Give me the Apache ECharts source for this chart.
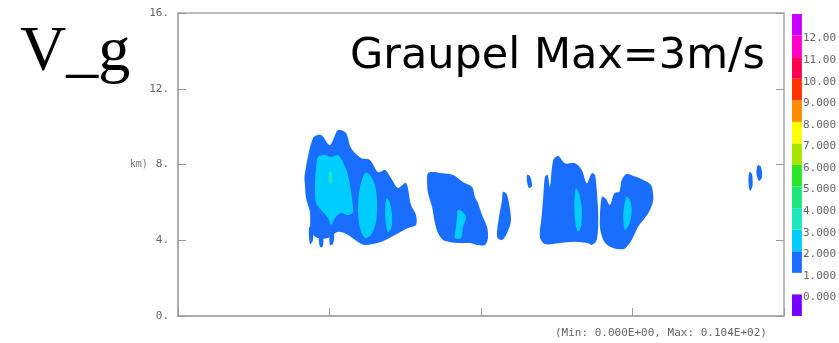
<!DOCTYPE html>
<html>
<head>
<meta charset="utf-8">
<script src="https://cdn.jsdelivr.net/npm/echarts@6/dist/echarts.min.js"></script>
<style>
  html, body { margin: 0; padding: 0; background: #fff; }
  #chart { width: 839px; height: 343px; }
</style>
</head>
<body>
<div id="chart"></div>
<script>
// contour outlines, [x, height km]
// level 1-2 m/s
const blueAreas = [
  [[0.836,7.45],[0.891,9.40],[0.944,9.56],[1.003,9.03],[1.056,9.82],[1.109,9.66],[1.142,8.87],[1.208,8.34],
   [1.267,8.24],[1.320,7.60],[1.366,7.71],[1.406,7.29],[1.452,6.76],[1.505,7.02],[1.538,5.86],[1.571,5.33],
   [1.571,4.81],[1.518,4.65],[1.432,4.28],[1.340,3.91],[1.234,3.75],[1.188,3.91],[1.122,4.28],[1.056,4.44],
   [0.990,4.12],[0.924,4.12],[0.878,4.44],[0.871,5.49],[0.845,6.23],[0.838,6.92]],
  [[0.865,4.65],[0.884,4.75],[0.891,4.01],[0.871,3.80]],
  [[0.931,4.44],[0.957,4.54],[0.957,3.70],[0.937,3.64]],
  [[1.003,4.33],[1.030,4.33],[1.023,3.80],[1.003,3.75]],
  [[1.650,7.55],[1.683,7.60],[1.729,7.55],[1.815,7.45],[1.881,7.08],[1.941,6.81],[1.960,6.28],[1.980,5.97],
   [2.007,5.33],[2.040,4.70],[2.046,4.12],[2.026,3.75],[1.974,3.75],[1.927,3.85],[1.861,3.85],[1.795,3.91],
   [1.749,4.01],[1.716,4.38],[1.696,4.91],[1.677,5.76],[1.650,6.49],[1.644,7.18]],
  [[2.145,6.55],[2.172,6.39],[2.198,5.07],[2.172,4.38],[2.139,4.01],[2.106,4.17],[2.119,5.23],[2.139,6.12]],
  [[2.304,7.45],[2.323,7.39],[2.337,6.86],[2.317,6.76],[2.304,7.08]],
  [[2.422,7.36],[2.440,7.45],[2.455,6.83],[2.477,8.24],[2.510,8.45],[2.554,8.06],[2.620,8.06],[2.665,7.71],
   [2.698,7.01],[2.731,7.54],[2.752,7.45],[2.764,6.65],[2.774,5.24],[2.764,4.01],[2.731,3.75],[2.709,3.84],
   [2.620,3.92],[2.510,3.84],[2.422,3.80],[2.389,4.16],[2.400,5.24],[2.411,6.30]],
  [[2.797,6.30],[2.823,6.21],[2.851,5.86],[2.880,6.48],[2.913,6.56],[2.929,7.18],[2.962,7.50],[3.017,7.36],
   [3.061,7.22],[3.122,6.92],[3.137,6.12],[3.104,5.42],[3.038,4.72],[2.995,4.01],[2.950,3.57],[2.896,3.54],
   [2.840,3.71],[2.807,4.01],[2.785,4.72]],
  [[3.772,7.60],[3.789,7.50],[3.792,6.86],[3.776,6.60],[3.766,7.02]],
  [[3.828,7.97],[3.848,7.87],[3.855,7.34],[3.835,7.13],[3.818,7.55]]
];
// level 2-3 m/s
const cyanAreas = [
  [[0.924,8.40],[0.970,8.50],[1.010,8.40],[1.056,8.50],[1.089,8.13],[1.122,7.45],[1.142,6.55],[1.155,5.49],
   [1.122,5.33],[1.076,5.44],[1.036,5.17],[1.010,4.81],[0.990,5.17],[0.944,5.60],[0.911,5.97],[0.904,6.76],[0.911,7.81]],
  [[1.234,7.55],[1.267,7.45],[1.300,6.92],[1.314,6.02],[1.307,4.96],[1.274,4.28],[1.234,4.12],[1.201,4.65],
   [1.188,5.70],[1.201,6.76]],
  [[1.378,6.23],[1.397,6.02],[1.413,5.33],[1.408,4.65],[1.386,4.44],[1.371,4.96],[1.368,5.70]],
  [[1.848,5.60],[1.881,5.49],[1.901,5.17],[1.881,4.70],[1.868,4.12],[1.828,4.12],[1.835,4.70],[1.842,5.23]],
  [[2.625,6.74],[2.647,6.48],[2.665,5.69],[2.660,4.72],[2.642,4.45],[2.625,4.81],[2.616,5.77]],
  [[2.962,6.30],[2.983,6.12],[2.995,5.51],[2.977,4.81],[2.950,4.54],[2.939,5.24],[2.946,5.86]]
];
// level 3-4 m/s
const aquaAreas = [
  [[0.997,7.60],[1.016,7.55],[1.016,6.97],[0.997,7.07]]
];

// colour bar: lower bound of each band and its colour
const barLows   = [-1, 1, 2, 3, 4, 5, 6, 7, 8, 9, 10, 11, 12];
const barColors = ['#7800ff', '#1a6eff', '#00cdff', '#1ee6be', '#1ee67a', '#28e628', '#a8e600',
                   '#ffff00', '#ff8c00', '#ff3200', '#ff0050', '#ff00c8', '#c800ff'];

const blue = barColors[1], cyan = barColors[2], aqua = barColors[3];

function areaSeries(polys, color) {
  return {
    type: 'custom',
    xAxisIndex: 0,
    yAxisIndex: 0,
    silent: true,
    clip: true,
    data: polys.map((p, i) => [p[0][0], p[0][1], i]),
    renderItem: function (params, api) {
      const pts = polys[params.dataIndex].map(pt => api.coord(pt));
      return {
        type: 'polygon',
        shape: { points: pts, smooth: 0.3 },
        style: { fill: color }
      };
    }
  };
}

const chart = echarts.init(document.getElementById('chart'));
const grey = '#a8a8a8';
const mono = '"DejaVu Sans Mono", monospace';

chart.setOption({
  animation: false,
  grid: [
    { left: 178, top: 13, width: 606, height: 303, show: true, borderColor: grey, borderWidth: 1.5 },
    { left: 792, top: 14, width: 10, height: 302 }
  ],
  xAxis: [
    { gridIndex: 0, type: 'value', min: 0, max: 4, interval: 1,
      axisLine: { lineStyle: { color: grey, width: 1.5 } },
      axisTick: { inside: true, length: 8, lineStyle: { color: '#999' } },
      axisLabel: { show: false }, splitLine: { show: false } },
    { gridIndex: 1, type: 'value', min: 0, max: 1, show: false }
  ],
  yAxis: [
    { gridIndex: 0, type: 'value', min: 0, max: 16, interval: 4,
      axisLine: { show: true, lineStyle: { color: grey, width: 1.5 } },
      axisTick: { inside: true, length: 8, lineStyle: { color: '#999' } },
      splitLine: { show: false },
      axisLabel: {
        margin: 9, color: '#666', fontFamily: mono, fontSize: 11,
        formatter: v => (v === 8 ? '{u|km)}' : '') + v + '.',
        rich: { u: { fontSize: 10, color: '#777', fontFamily: mono, padding: [0, 8, 0, 0] } }
      } },
    { gridIndex: 0, type: 'value', min: 0, max: 16, interval: 4, position: 'right',
      axisLine: { show: false },
      axisTick: { inside: true, length: 8, lineStyle: { color: '#999' } },
      axisLabel: { show: false }, splitLine: { show: false } },
    { gridIndex: 1, type: 'value', min: -1, max: 13, interval: 1, position: 'right',
      axisLine: { show: false }, axisTick: { show: false }, splitLine: { show: false },
      axisLabel: {
        margin: 1,
        formatter: v => (v < 0 || v > 12) ? '' : '{t|' + (v >= 10 ? v.toFixed(2) : v.toFixed(3)) + '}',
        rich: { t: { color: '#666', fontFamily: mono, fontSize: 11, padding: [6, 0, 0, 0] } }
      } }
  ],
  graphic: [
    { type: 'text', left: 20, top: 21,
      style: { text: 'V_g', font: '64px "Liberation Serif", "Times New Roman", serif', fill: '#000' } },
    { type: 'text', right: 74, top: 35,
      style: { text: 'Graupel Max=3m/s', font: '43px "Comic Sans MS", "DejaVu Sans", sans-serif', fill: '#000' } },
    { type: 'text', left: 555, top: 328,
      style: { text: '(Min: 0.000E+00, Max: 0.104E+02)', font: '11px ' + mono, fill: '#666' } }
  ],
  series: [
    areaSeries(blueAreas, blue),
    areaSeries(cyanAreas, cyan),
    areaSeries(aquaAreas, aqua),
    {
      type: 'custom',
      xAxisIndex: 1,
      yAxisIndex: 2,
      silent: true,
      data: barLows.map((lo, i) => [0, lo, i]),
      renderItem: function (params, api) {
        const lo = api.value(1);
        const p0 = api.coord([0, lo + 1]);
        const p1 = api.coord([1, lo]);
        return {
          type: 'rect',
          shape: { x: p0[0], y: p0[1], width: p1[0] - p0[0], height: p1[1] - p0[1] },
          style: { fill: barColors[params.dataIndex] }
        };
      }
    }
  ]
});
</script>
</body>
</html>
